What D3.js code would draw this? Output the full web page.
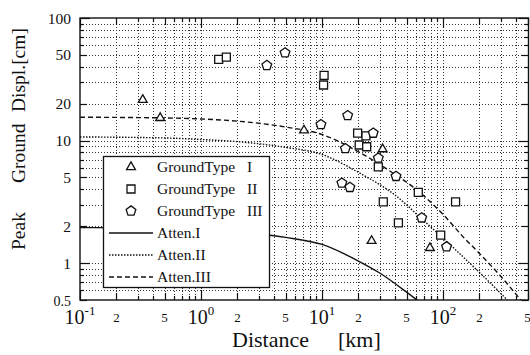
<!DOCTYPE html>
<html><head><meta charset="utf-8">
<script src="https://cdn.jsdelivr.net/npm/d3@7"></script>
<style>
body{margin:0;background:#fff}
svg{display:block}
</style>
</head><body><svg id="c" width="530" height="355" font-family="'Liberation Serif', 'DejaVu Serif', serif"></svg>
<script>
// ---- data ----
const distI = [0.33, 0.46, 7.1, 31.7, 25.7, 78];
const pgdI  = [21.5, 15.3, 12.1, 8.5, 1.52, 1.33];

const distII = [1.4, 1.62, 10.4, 10.3, 19.7, 23.1, 20.3, 23.4, 29.2, 62.5, 32.1, 127, 42.8, 95.7];
const pgdII  = [46, 48, 34, 28.4, 11.5, 10.9, 9.2, 8.9, 6.1, 3.78, 3.16, 3.16, 2.13, 1.69];

const distIII = [3.5, 4.95, 9.8, 16.3, 26.5, 15.6, 29.2, 40.9, 14.6, 17, 66.7, 107];
const pgdIII  = [41, 52, 13.5, 16, 11.5, 8.6, 7.2, 5.1, 4.5, 4.15, 2.34, 1.36];

const attenIDist = [0.1, 0.2, 0.5, 1, 2, 5, 10, 20, 30, 50, 61];
const attenI     = [1.95, 1.94, 1.91, 1.86, 1.78, 1.62, 1.42, 1.04, 0.83, 0.58, 0.5];
const attenIIDist = [0.1, 0.5, 1, 2, 5, 10, 20, 40, 70, 100, 150, 200, 340];
const attenII     = [10.7, 10.5, 10.2, 9.8, 8.8, 7.7, 5.5, 3.6, 2.2, 1.6, 1.1, 0.84, 0.5];
const attenIIIDist = [0.1, 0.5, 1, 2, 5, 10, 20, 40, 60, 100, 150, 200, 300, 440];
const attenIII     = [15.5, 15.3, 15.0, 14.4, 12.9, 11.2, 8.1, 5.3, 4.0, 2.5, 1.6, 1.2, 0.78, 0.5];

const xDecades = [0.1, 1, 10, 100];
const xDecadeExp = ["-1", "0", "1", "2"];
const xMinorValues = [0.2, 0.5, 2, 5, 20, 50, 200, 500];
const xMinorLabels = ["2", "5", "2", "5", "2", "5", "2", "5"];
const yTickValues = [100, 50, 20, 10, 5, 2, 1, 0.5];
const yTickLabels = ["100", "50", "20", "10", "5", "2", "1", "0.5"];
const legendNames = ["GroundType", "GroundType", "GroundType", "Atten.I", "Atten.II", "Atten.III"];
const legendNumerals = ["I", "II", "III", "", "", ""];

// ---- layout ----
const FONT = "'Liberation Serif', 'DejaVu Serif', serif";
const svg = d3.select("#c");
const pL = 80, pR = 528.5, pT = 18, pB = 300;
const x = d3.scaleLog().domain([0.1, 1000]).range([80, 80 + 121 * 4]);
const y = d3.scaleLog().domain([0.5, 100]).range([pB, pT]);

svg.append("defs").append("clipPath").attr("id", "plot")
  .append("rect").attr("x", pL).attr("y", pT).attr("width", pR - pL).attr("height", pB - pT);

// grid values
const xGrid = [];
[0.1, 1, 10, 100].forEach(d => { for (let k = 1; k <= 9; k++) { const v = d * k; if (v <= 500) xGrid.push(v); } });
const yGrid = [];
[0.1, 1, 10].forEach(d => { for (let k = 1; k <= 9; k++) { const v = d * k; if (v >= 0.5) yGrid.push(v); } });
yGrid.push(100);

const g = svg.append("g");
const grid = g.append("g").attr("stroke", "#333").attr("stroke-width", 1).attr("stroke-dasharray", "1,2");
grid.selectAll("line.v").data(xGrid.filter(v => v > 0.1)).enter().append("line")
  .attr("x1", d => Math.round(x(d)) + 0.5).attr("x2", d => Math.round(x(d)) + 0.5)
  .attr("y1", pT).attr("y2", pB);
grid.selectAll("line.h").data(yGrid.filter(v => v > 0.5 && v < 100)).enter().append("line")
  .attr("y1", d => Math.round(y(d)) + 0.5).attr("y2", d => Math.round(y(d)) + 0.5)
  .attr("x1", pL).attr("x2", pR);

// ticks
function tlen(v) {
  const m = v / Math.pow(10, Math.floor(Math.log10(v) + 1e-9));
  const r = Math.round(m);
  if (r === 1) return 10;
  if (r === 2 || r === 5) return 7;
  return 4;
}
const ticks = g.append("g").attr("stroke", "#111").attr("stroke-width", 1.2);
xGrid.forEach(v => {
  const px = Math.round(x(v)) + 0.5;
  ticks.append("line").attr("x1", px).attr("x2", px).attr("y1", pB).attr("y2", pB - tlen(v));
  ticks.append("line").attr("x1", px).attr("x2", px).attr("y1", pT).attr("y2", pT + tlen(v));
});
yGrid.forEach(v => {
  const py = Math.round(y(v)) + 0.5;
  ticks.append("line").attr("y1", py).attr("y2", py).attr("x1", pL).attr("x2", pL + tlen(v));
  ticks.append("line").attr("y1", py).attr("y2", py).attr("x1", pR).attr("x2", pR - tlen(v));
});

// frame
g.append("rect").attr("x", pL).attr("y", pT).attr("width", pR - pL).attr("height", pB - pT)
  .attr("fill", "none").attr("stroke", "#111").attr("stroke-width", 1.4);

// attenuation curves
const line = d3.line().x(d => x(d[0])).y(d => y(d[1])).curve(d3.curveMonotoneX);
const curves = g.append("g").attr("clip-path", "url(#plot)").attr("fill", "none").attr("stroke", "#111");
curves.append("path").datum(d3.zip(attenIDist, attenI)).attr("d", line).attr("stroke-width", 1.4);
curves.append("path").datum(d3.zip(attenIIDist, attenII)).attr("d", line).attr("stroke-width", 1.4).attr("stroke-dasharray", "1.5,1.5");
curves.append("path").datum(d3.zip(attenIIIDist, attenIII)).attr("d", line).attr("stroke-width", 1.4).attr("stroke-dasharray", "5,3");

// markers
const pentagon = { draw(ctx, size) {
  const r = Math.sqrt(size / 2.378);
  for (let i = 0; i < 5; i++) {
    const a = -Math.PI / 2 + i * 2 * Math.PI / 5;
    const px = r * Math.cos(a), py = r * Math.sin(a);
    if (i === 0) ctx.moveTo(px, py); else ctx.lineTo(px, py);
  }
  ctx.closePath();
}};
const triangle = { draw(ctx, size) {
  const s = Math.sqrt(size * 4 / Math.sqrt(3));
  const h = s * Math.sqrt(3) / 2;
  ctx.moveTo(0, -h * 2 / 3); ctx.lineTo(s / 2, h / 3); ctx.lineTo(-s / 2, h / 3); ctx.closePath();
}};
const symTri = d3.symbol().type(triangle).size(34);
const symSq = d3.symbol().type(d3.symbolSquare).size(64);
const symPent = d3.symbol().type(pentagon).size(62);

const marks = g.append("g").attr("fill", "#fff").attr("stroke", "#111").attr("stroke-width", 1.3);
marks.selectAll("path.t").data(d3.zip(distI, pgdI)).enter().append("path")
  .attr("d", symTri).attr("transform", d => `translate(${x(d[0])},${y(d[1])})`);
marks.selectAll("path.s").data(d3.zip(distII, pgdII)).enter().append("path")
  .attr("d", symSq).attr("transform", d => `translate(${x(d[0])},${y(d[1])})`);
marks.selectAll("path.p").data(d3.zip(distIII, pgdIII)).enter().append("path")
  .attr("d", symPent).attr("transform", d => `translate(${x(d[0])},${y(d[1])})`);

// text helper
const txt = (sel, xx, yy, size) => sel.append("text").attr("x", xx).attr("y", yy)
  .attr("font-size", size).attr("font-family", FONT).attr("fill", "#111");

// legend
const lg = g.append("g");
lg.append("rect").attr("x", 103.5).attr("y", 156.5).attr("width", 166).attr("height", 131)
  .attr("fill", "#fff").attr("stroke", "#111").attr("stroke-width", 1.3);
const rowY = i => 167 + i * 22;
const syms = [symTri, symSq, symPent];
[0, 1, 2].forEach(i => {
  lg.append("path").attr("d", syms[i]).attr("transform", `translate(131,${rowY(i)})`)
    .attr("fill", "#fff").attr("stroke", "#111").attr("stroke-width", 1.3);
});
const dashes = [null, "1.5,1.5", "5,3"];
[3, 4, 5].forEach((i, j) => {
  const l = lg.append("line").attr("x1", 109).attr("x2", 153).attr("y1", rowY(i)).attr("y2", rowY(i))
    .attr("stroke", "#111").attr("stroke-width", 1.4);
  if (dashes[j]) l.attr("stroke-dasharray", dashes[j]);
});
legendNames.forEach((nm, i) => {
  const t = txt(lg, 157, rowY(i) + 5, 15.5).text(nm);
  if (legendNumerals[i]) t.append("tspan").attr("x", 247).text(legendNumerals[i]);
});

// y tick labels
yTickValues.forEach((v, i) => {
  txt(g, 71, y(v) + (v === 0.5 ? 6 : 5.5), v === 0.5 ? 14 : 15.5).attr("text-anchor", "end").text(yTickLabels[i]);
});

// x tick labels
xDecades.forEach((v, i) => {
  const t = txt(g, x(v), 324, 20).attr("text-anchor", "middle");
  t.append("tspan").text("10");
  t.append("tspan").attr("font-size", 13).attr("dy", -9).text(xDecadeExp[i]);
});
xMinorValues.forEach((v, i) => {
  txt(g, x(v), 322, 13).attr("text-anchor", "middle").text(xMinorLabels[i]);
});

// axis titles
txt(g, 232, 347, 22).text("Distance");
txt(g, 338, 347, 22).text("[km]");
const yt = g.append("g").attr("transform", "translate(25,0) rotate(-90)");
txt(yt, -250, 0, 19.5).text("Peak");
txt(yt, -183, 0, 19.5).text("Ground");
txt(yt, -112, 0, 19.5).text("Displ.[cm]");
</script>
</body></html>
